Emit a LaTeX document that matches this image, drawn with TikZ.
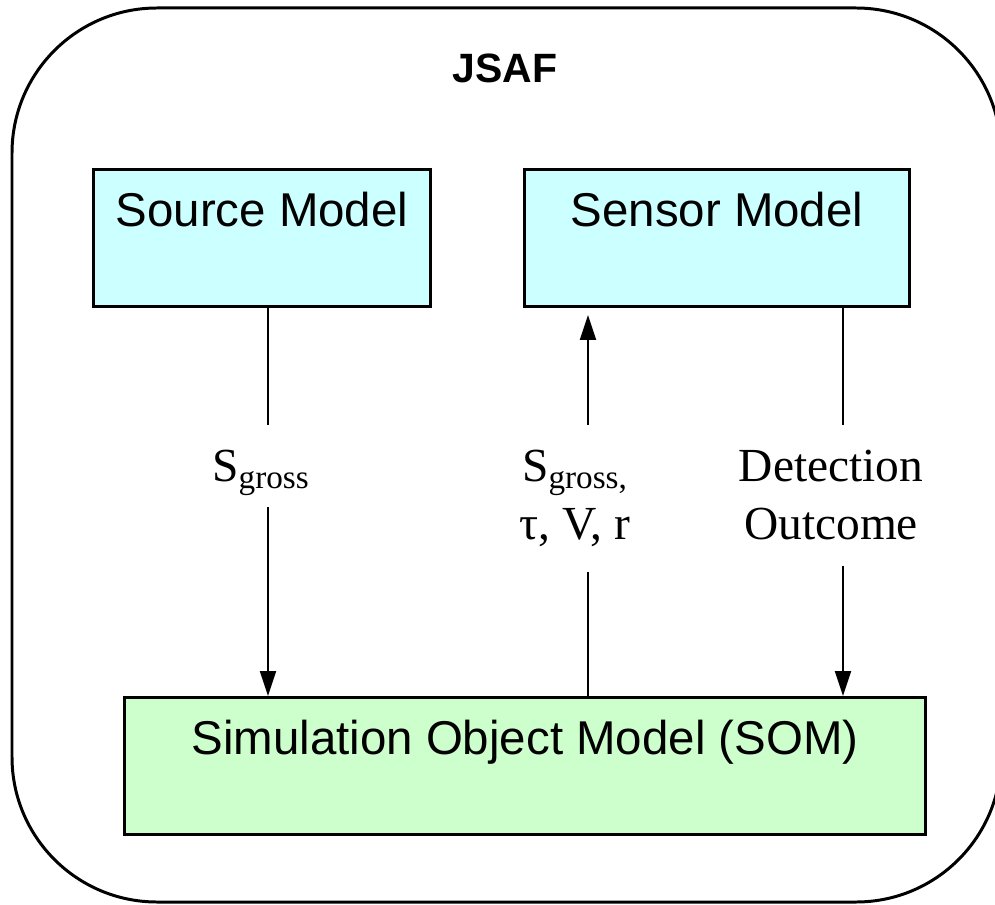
\documentclass[tikz,border=0pt]{standalone}
\usepackage{fontspec}
\setmainfont{Liberation Serif}
\setsansfont{Liberation Sans}
\usetikzlibrary{arrows.meta,positioning}
\definecolor{Pale}{HTML}{CCFFFF}
\definecolor{Mint}{HTML}{CCFFCC}

\begin{document}
\begin{tikzpicture}[
    model/.style={draw,line width=1.7pt,inner xsep=0pt,inner ysep=0pt,anchor=north west,
      text height=1.14cm,text depth=1.6cm,font=\sffamily\fontsize{27}{32}\selectfont},
    tag/.style={anchor=north,align=center,inner xsep=0pt,inner ysep=0.5cm,
      font=\fontsize{27}{33}\selectfont},
    link/.style={line width=1.1pt},
    arr/.style={link,-{Triangle[length=0.5cm,width=0.32cm]}}
  ]
    \useasboundingbox (0,0) rectangle (19.9,-18.08);
    \draw[line width=1.7pt,rounded corners=2.9cm] (0.24,-0.16) rectangle (20.02,-18.04);
    \node[font=\sffamily\bfseries\fontsize{23.3}{28}\selectfont] (jsaf) at (10.1,-1.36) {JSAF};
    \node[model,fill=Pale,minimum width=6.74cm] (src) at (1.84,-3.36) {Source Model};
    \node[model,fill=Pale,minimum width=7.7cm] (sns) at (10.46,-3.36) {Sensor Model};
    \node[model,fill=Mint,minimum width=16.02cm] (som) at (2.46,-13.92) {Simulation Object Model (SOM)};
    % line positions
    \coordinate (x1) at (5.36,-8.5);
    \coordinate (x2) at (11.76,-8.5);
    \coordinate (x3) at (16.86,-8.5);
    \node[tag,text depth=0pt] (gross) at (5.22,-8.5) {S\textsubscript{gross}};
    \node[tag] (params) at (11.5,-8.5) {S\textsubscript{gross,}\\τ, V, r};
    \node[tag] (detect) at (16.62,-8.5) {Detection\\Outcome};
    \draw[link] (src.south -| x1) -- (x1 |- gross.north);
    \draw[arr] (x1 |- gross.south) -- (som.north -| x1);
    \draw[link] (som.north -| x2) -- (x2 |- params.south);
    \draw[arr,shorten >=0.14cm] (x2 |- params.north) -- (sns.south -| x2);
    \draw[link] (sns.south -| x3) -- (x3 |- detect.north);
    \draw[arr] (x3 |- detect.south) -- (som.north -| x3);
  \end{tikzpicture}
\end{document}
